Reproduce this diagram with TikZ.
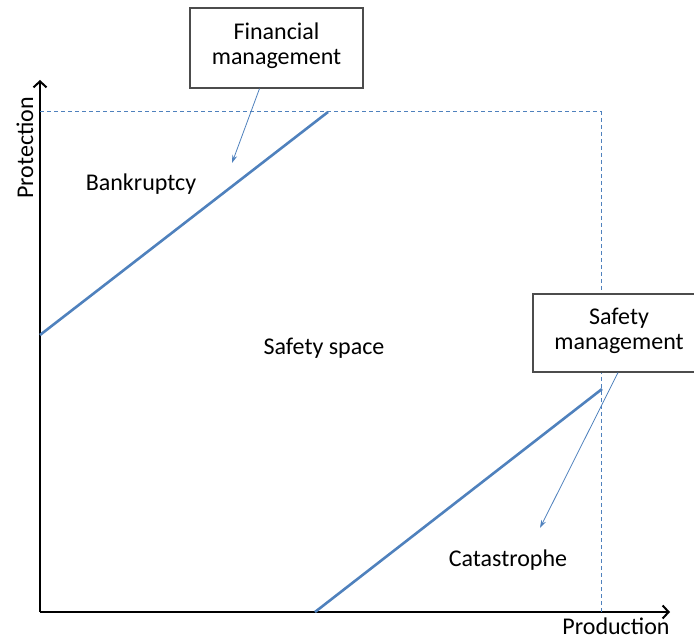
\documentclass[tikz,border=0pt]{standalone}
\usepackage{fontspec}
\setmainfont{Carlito}
\usepackage{tikz}
\usetikzlibrary{calc}
\usetikzlibrary{arrows.meta}
\definecolor{officeblue}{RGB}{79,129,189}

\begin{document}
\begin{tikzpicture}[x=1pt, y=-1pt, font=\fontsize{24}{25}\selectfont,
	labelbox/.style={draw=black!70, line width=1.2pt, fill=white, align=center, minimum width=173pt, minimum height=80pt},
	pointer/.style={officeblue, line width=0.8pt, -{Stealth[length=8pt,width=5pt]}},
	axis/.style={line width=2.2pt, -{Straight Barb[length=6pt,width=13pt,line width=2pt]}},
	limit/.style={officeblue, line width=2.6pt}]
	\useasboundingbox (0,0) rectangle (694,639);
		% axes
		\coordinate (origin) at (40,612);
		\coordinate (ytip) at (40,80);
		\coordinate (xtip) at (670,612);
		\draw[axis] (origin) -- (ytip);
		\draw[axis] (origin) -- (xtip);
		\node[rotate=90] (protlabel) at (25,148) {Protection};
		\node (prodlabel) at (616,626) {Production};
		% limits of the space
		\coordinate (topleft) at (40,112);
		\coordinate (corner) at (601,112);
		\coordinate (bottomright) at (601,612);
		\draw[officeblue, line width=1pt, dash pattern=on 4pt off 3pt] (topleft) -- (corner) -- (bottomright);
		\coordinate (finA) at (40,335);
		\coordinate (finB) at (328,112);
		\coordinate (safA) at (315,612);
		\coordinate (safB) at (602,389);
		\draw[limit] (finA) -- (finB);
		\draw[limit] (safA) -- (safB);
		% regions
		\node[anchor=base] (bankrupt) at (141,191) {Bankruptcy};
		\node[anchor=base] (space) at (324,355) {Safety space};
		\node[anchor=base] (catastrophe) at (508,566) {Catastrophe};
		% boxes
		\node[labelbox] (finbox) at (276.5,48) {Financial\\management\rule[-9pt]{0pt}{0pt}};
		\node[labelbox, minimum width=172pt, minimum height=78pt] (safbox) at (619,333) {Safety\\management\rule[-9pt]{0pt}{0pt}};
		\coordinate (finend) at (232,163);
		\coordinate (safend) at (540,528);
		\draw[pointer] ($(finbox.south)+(-17,0)$) -- (finend);
		\draw[pointer] ($(safbox.south)+(-1,0)$) -- (safend);
\end{tikzpicture}
\end{document}
